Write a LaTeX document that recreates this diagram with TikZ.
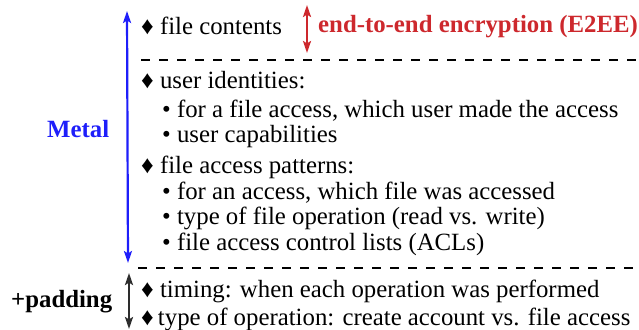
\documentclass[tikz,border=0pt]{standalone}
\usepackage{fontspec}
\setmainfont{Liberation Serif}
\usetikzlibrary{arrows.meta}
\definecolor{metalblue}{RGB}{30,30,250}
\definecolor{e2red}{RGB}{205,40,45}
\definecolor{padgray}{RGB}{45,45,45}
\begin{document}
\begin{tikzpicture}[x=1pt,y=-1pt,
  txt/.style={anchor=base west,inner sep=0pt,font=\fontsize{24.8}{26}\selectfont},
  btxt/.style={anchor=base west,inner sep=0pt,font=\fontsize{24.8}{26}\selectfont\bfseries},
  sep/.style={line width=2pt,dash pattern=on 9pt off 9pt},
  darr/.style={line width=2.2pt,{Stealth[length=12pt,width=8pt,inset=2.5pt]}-{Stealth[length=12pt,width=8pt,inset=2.5pt]}}
]
\useasboundingbox (0,0) rectangle (639,329);
% left labels
\node[btxt,text=metalblue] (metal) at (47,137) {Metal};
\node[btxt,text=black] (pad) at (11,307) {+padding};
% arrows
\coordinate (mt) at (127,11);
\coordinate (mb) at (128,263);
\draw[darr,draw=metalblue] (mt) -- (mb);
\coordinate (pt) at (129,273);
\coordinate (pb) at (129,329);
\draw[darr,draw=padgray] (pt) -- (pb);
\coordinate (et) at (307,5);
\coordinate (eb) at (307,53);
\draw[darr,draw=e2red] (et) -- (eb);
% E2EE
\node[btxt,text=e2red] (e2ee) at (318,33) {end-to-end encryption (E2EE)};
% items
\node[txt] (i1) at (141,35) {♦ file contents};
\coordinate (d1a) at (141,60);
\coordinate (d1b) at (640,60);
\draw[sep] (d1a) -- (d1b);
\node[txt] (i2) at (141,88) {♦ user identities:};
\node[txt] (i2a) at (162,117) {• for a file access, which user made the access};
\node[txt] (i2b) at (162,142) {• user capabilities};
\node[txt] (i3) at (141,173) {♦ file access patterns:};
\node[txt] (i3a) at (162,199) {• for an access, which file was accessed};
\node[txt] (i3b) at (162,224) {• type of file operation (read vs. write)};
\node[txt] (i3c) at (162,250) {• file access control lists (ACLs)};
\coordinate (d2a) at (138,268);
\coordinate (d2b) at (640,268);
\draw[sep] (d2a) -- (d2b);
\node[txt] (i4) at (141,297) {♦ timing: when each operation was performed};
\node[txt] (i5) at (141,325) {♦\,type of operation: create account vs. file access};
\end{tikzpicture}
\end{document}
